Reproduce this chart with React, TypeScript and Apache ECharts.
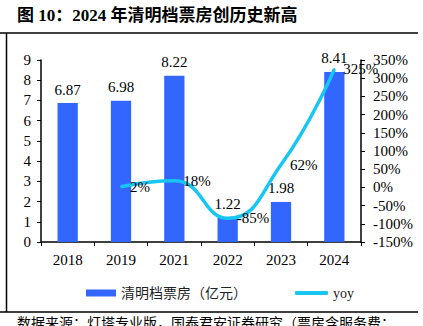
import React, { useEffect, useRef } from "react";
import * as echarts from "echarts";

const categories = ["2018", "2019", "2021", "2022", "2023", "2024"];
const boxOffice = [6.87, 6.98, 8.22, 1.22, 1.98, 8.41];
const yoy: (number | string)[] = ["-", 2, 18, -85, 62, 325];
const titleText = "图 10：2024 年清明档票房创历史新高";
const sourceText = "数据来源：灯塔专业版，国泰君安证券研究（票房含服务费：";
const barName = "清明档票房（亿元）";
const lineName = "yoy";

const SERIF = '"Liberation Serif", "Times New Roman", "Noto Sans CJK SC", serif';
const LINE_COLOR = "#18c6f2";

export default function App() {
  const ref = useRef<HTMLDivElement>(null);
  useEffect(() => {
    document.body.style.margin = "0";
    const chart = echarts.init(ref.current!, null, { renderer: "svg" });
    chart.setOption({
      animation: false,
      backgroundColor: "#fff",
      textStyle: { fontFamily: SERIF },
      grid: { left: 41, right: 62, top: 60, bottom: 84, containLabel: false },
      legend: [
        {
          left: 81,
          top: 281,
          itemWidth: 30,
          itemHeight: 7,
          textStyle: { fontSize: 14, color: "#222", fontFamily: SERIF },
          data: [{ name: barName, icon: "rect" }],
        },
        {
          left: 290,
          top: 281,
          itemWidth: 33,
          itemHeight: 4,
          itemGap: 4,
          textStyle: { fontSize: 14, color: "#222", fontFamily: SERIF },
          data: [{ name: lineName, icon: "roundRect" }],
        },
      ],
      xAxis: {
        type: "category",
        data: categories,
        axisLine: { lineStyle: { color: "#000", width: 1.5 } },
        axisTick: { show: true, length: 4, lineStyle: { color: "#000" } },
        axisLabel: { color: "#000", fontSize: 15, margin: 10, fontFamily: SERIF },
      },
      yAxis: [
        {
          type: "value",
          min: 0,
          max: 9,
          interval: 1,
          axisLine: { show: true, lineStyle: { color: "#000", width: 1.5 } },
          axisTick: { show: true, length: 4, lineStyle: { color: "#000" } },
          splitLine: { show: false },
          axisLabel: { color: "#000", fontSize: 15, margin: 10, fontFamily: SERIF },
        },
        {
          type: "value",
          min: -150,
          max: 350,
          interval: 50,
          position: "right",
          axisLine: { show: true, lineStyle: { color: "#000", width: 1.5 } },
          axisTick: { show: true, length: 4, lineStyle: { color: "#000" } },
          splitLine: { show: false },
          axisLabel: {
            color: "#000",
            fontSize: 15,
            margin: 12,
            fontFamily: SERIF,
            formatter: "{value}%",
          },
        },
      ],
      series: [
        {
          name: barName,
          type: "bar",
          data: boxOffice,
          barWidth: "38%",
          itemStyle: { color: "#3366ff" },
          label: {
            show: true,
            position: "top",
            distance: 6,
            color: "#000",
            fontSize: 15,
            fontFamily: SERIF,
          },
        },
        {
          name: lineName,
          type: "line",
          yAxisIndex: 1,
          data: yoy,
          smooth: true,
          symbol: "circle",
          symbolSize: 2,
          showSymbol: true,
          lineStyle: { color: LINE_COLOR, width: 3.5 },
          itemStyle: { color: LINE_COLOR },
          label: {
            show: true,
            position: "right",
            distance: 8,
            color: "#000",
            fontSize: 15,
            fontFamily: SERIF,
            formatter: "{c}%",
          },
        },
      ],
      graphic: [
        {
          type: "text",
          left: 17,
          top: 7,
          style: {
            text: titleText,
            fontSize: 17,
            fontWeight: "bold",
            fill: "#000",
            fontFamily: SERIF,
          },
        },
        {
          type: "line",
          shape: { x1: 0, y1: 33, x2: 418, y2: 33 },
          style: { stroke: "#000", lineWidth: 1.5 },
        },
        {
          type: "line",
          shape: { x1: 6.5, y1: 33, x2: 6.5, y2: 312 },
          style: { stroke: "#000", lineWidth: 1.5 },
        },
        {
          type: "line",
          shape: { x1: 0, y1: 312, x2: 418, y2: 312 },
          style: { stroke: "#000", lineWidth: 1.5 },
        },
        {
          type: "text",
          left: 17,
          top: 316,
          style: {
            text: sourceText,
            fontSize: 14,
            fill: "#000",
            fontFamily: SERIF,
          },
        },
      ],
    });
    return () => chart.dispose();
  }, []);
  return <div ref={ref} style={{ width: 423, height: 326 }} />;
}
